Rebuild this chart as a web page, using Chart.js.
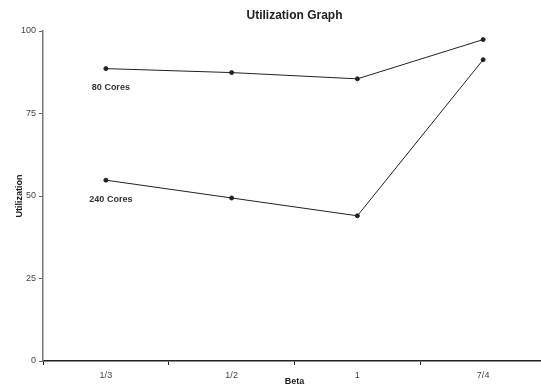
<!DOCTYPE html>
<html>
<head>
<meta charset="utf-8">
<script src="https://cdn.jsdelivr.net/npm/chart.js@4"></script>
<style>
  html, body { margin: 0; padding: 0; background: #fff; overflow: hidden; }
  #wrap { width: 551px; height: 387px; }
</style>
</head>
<body>
<div id="wrap"><canvas id="utilChart"></canvas></div>
<script>
// data
const betaLabels = ['1/3', '1/2', '1', '7/4'];
const cores80 = [88.6, 87.4, 85.5, 97.4];
const cores240 = [54.8, 49.4, 44.0, 91.3];
const seriesNames = ['80 Cores', '240 Cores'];
const yTicks = [0, 25, 50, 75, 100];

const fontFam = '"Liberation Sans", Arial, Helvetica, sans-serif';

// labels under the first point of each line
const seriesLabelPlugin = {
    id: 'seriesLabels',
    afterDatasetsDraw(chart) {
        const ctx = chart.ctx;
        const xs = chart.scales.x;
        const ys = chart.scales.y;
        ctx.save();
        ctx.font = 'bold 9px ' + fontFam;
        ctx.fillStyle = '#333';
        ctx.textAlign = 'center';
        ctx.textBaseline = 'middle';
        chart.data.datasets.forEach(ds => {
            const x = xs.getPixelForValue(0) + 5;
            const y = ys.getPixelForValue(ds.data[0]) + 19;
            ctx.fillText(ds.label, x, y);
        });
        ctx.restore();
    }
};

const lineStyle = {
    borderColor: '#222',
    borderWidth: 1,
    pointRadius: 2,
    pointBackgroundColor: '#222',
    pointBorderColor: '#222',
    tension: 0,
    fill: false
};

new Chart(document.getElementById('utilChart'), {
    type: 'line',
    data: {
        labels: betaLabels,
        datasets: [
            { label: seriesNames[0], data: cores80, ...lineStyle },
            { label: seriesNames[1], data: cores240, ...lineStyle }
        ]
    },
    options: {
        responsive: true,
        maintainAspectRatio: false,
        animation: false,
        layout: { padding: 0 },
        plugins: {
            legend: { display: false },
            tooltip: { enabled: false },
            title: {
                display: true,
                fullSize: false,
                text: 'Utilization Graph',
                color: '#222',
                font: { family: fontFam, size: 12, weight: 'bold' },
                padding: { top: 8, bottom: 8.6 }
            }
        },
        scales: {
            x: {
                type: 'category',
                offset: true,
                grid: { display: true, offset: true, drawOnChartArea: false, drawTicks: true, tickLength: 4, color: '#222' },
                border: { display: true, color: '#222', width: 1.5 },
                ticks: { color: '#444', font: { family: fontFam, size: 9 }, padding: 5, maxRotation: 0 },
                title: { display: true, text: 'Beta', color: '#222', font: { family: fontFam, size: 9, weight: 'bold' }, padding: { top: 0, bottom: 0 } },
                afterFit(axis) { axis.height = 26; }
            },
            y: {
                min: 0,
                max: 100,
                afterBuildTicks(axis) { axis.ticks = yTicks.map(v => ({ value: v })); },
                grid: { display: true, drawOnChartArea: false, drawTicks: true, tickLength: 4, color: '#666' },
                border: { display: true, color: '#777', width: 1.5 },
                ticks: { color: '#444', font: { family: fontFam, size: 9 }, padding: 3 },
                title: { display: true, text: 'Utilization', color: '#222', font: { family: fontFam, size: 9, weight: 'bold' }, padding: { top: 14, bottom: 0 } },
                afterFit(axis) { axis.width = 43; }
            }
        }
    },
    plugins: [seriesLabelPlugin]
});
</script>
</body>
</html>
